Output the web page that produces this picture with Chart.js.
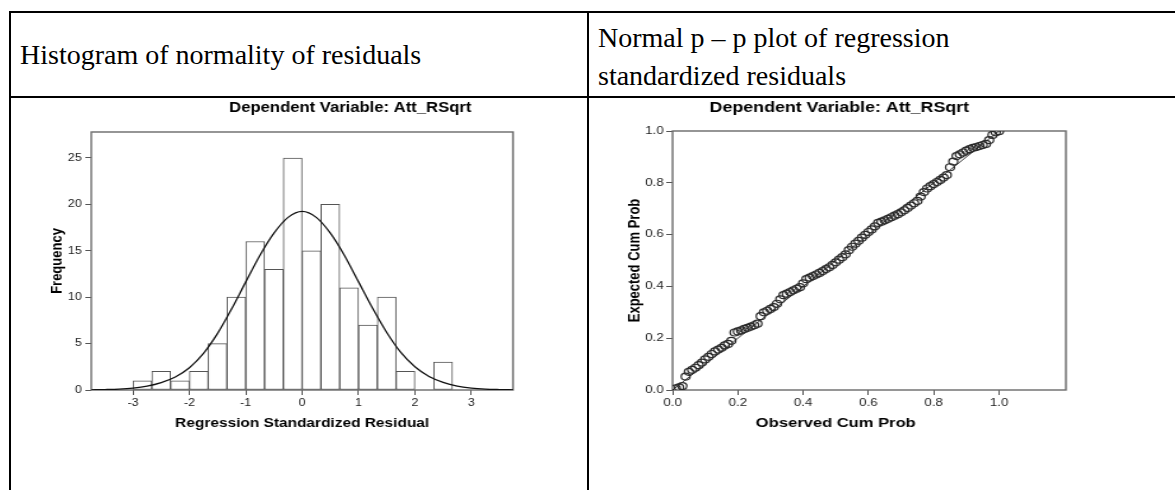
<!DOCTYPE html>
<html>
<head>
<meta charset="utf-8">
<script src="https://cdn.jsdelivr.net/npm/chart.js@4.4.0/dist/chart.umd.min.js"></script>
<style>
html,body{margin:0;padding:0;background:#fff;}
body{width:1175px;height:490px;position:relative;overflow:hidden;font-family:"Liberation Serif","Times New Roman",serif;}
.rule{position:absolute;background:#000;}
.head{position:absolute;font-size:28px;line-height:38px;color:#000;white-space:nowrap;}
.plot{position:absolute;top:100px;transform-origin:0 0;}
</style>
</head>
<body>

<div class="rule" style="left:9px;top:11px;width:1166px;height:2px"></div>
<div class="rule" style="left:9px;top:11px;width:2px;height:479px"></div>
<div class="rule" style="left:9px;top:96px;width:1166px;height:2px"></div>
<div class="rule" style="left:587px;top:11px;width:2px;height:479px"></div>

<div class="head" style="left:20px;top:36px">Histogram of normality of residuals</div>
<div class="head" style="left:598px;top:19px">Normal p – p plot of regression<br>standardized residuals</div>

<div class="plot" style="left:20px;transform:scaleX(1.188)"><canvas id="hist" width="460" height="360"></canvas></div>
<div class="plot" style="left:600px;transform:scaleX(1.273)"><canvas id="pp" width="400" height="360"></canvas></div>

<script>
// histogram: bins of width 1/3, centres and counts
const binCenters = [-2.833,-2.5,-2.167,-1.833,-1.5,-1.167,-0.833,-0.5,-0.167,0.167,0.5,0.833,1.167,1.5,1.833,2.167,2.5];
const frequencies = [1,2,1,2,5,10,16,13,25,15,20,11,7,10,2,0,3];

// normal curve
const curveX = [-3.75,-3.5,-3.25,-3,-2.75,-2.5,-2.25,-2,-1.75,-1.5,-1.25,-1,-0.75,-0.5,-0.25,0,0.25,0.5,0.75,1,1.25,1.5,1.75,2,2.25,2.5,2.75,3,3.25,3.5,3.75];
const curveY = [0.02,0.05,0.10,0.21,0.42,0.80,1.40,2.40,3.95,6.10,8.75,11.65,14.5,16.9,18.6,19.25,18.6,16.9,14.5,11.65,8.8,6.2,4.05,2.5,1.45,0.82,0.42,0.21,0.10,0.05,0.02];

const histXTicks = [-3,-2,-1,0,1,2,3];
const histYTicks = [0,5,10,15,20,25];

// p-p plot
const observedCum = [0.01,0.02,0.03,0.04,0.05,0.06,0.07,0.08,0.09,0.10,
0.11,0.12,0.13,0.14,0.15,0.16,0.17,0.18,0.19,0.20,
0.21,0.22,0.23,0.24,0.25,0.26,0.27,0.28,0.29,0.30,
0.31,0.32,0.33,0.34,0.35,0.36,0.37,0.38,0.39,0.40,
0.41,0.42,0.43,0.44,0.45,0.46,0.47,0.48,0.49,0.50,
0.51,0.52,0.53,0.54,0.55,0.56,0.57,0.58,0.59,0.60,
0.61,0.62,0.63,0.64,0.65,0.66,0.67,0.68,0.69,0.70,
0.71,0.72,0.73,0.74,0.75,0.76,0.77,0.78,0.79,0.80,
0.81,0.82,0.83,0.84,0.85,0.86,0.87,0.88,0.89,0.90,
0.91,0.92,0.93,0.94,0.95,0.96,0.97,0.98,0.99,1.00];
const expectedCum = [0.006,0.010,0.015,0.052,0.070,0.078,0.086,0.096,0.106,0.118,
0.128,0.139,0.149,0.156,0.163,0.172,0.178,0.190,0.222,0.226,
0.230,0.236,0.240,0.245,0.250,0.256,0.285,0.300,0.306,0.313,
0.320,0.333,0.350,0.366,0.372,0.378,0.385,0.391,0.397,0.412,
0.428,0.434,0.440,0.446,0.452,0.459,0.467,0.474,0.483,0.493,
0.503,0.513,0.524,0.540,0.553,0.565,0.576,0.588,0.599,0.610,
0.620,0.632,0.645,0.650,0.655,0.661,0.667,0.673,0.679,0.686,
0.694,0.703,0.712,0.721,0.730,0.747,0.764,0.778,0.787,0.795,
0.803,0.811,0.820,0.830,0.860,0.882,0.903,0.910,0.917,0.924,
0.930,0.935,0.938,0.942,0.946,0.950,0.965,0.985,0.995,0.999];
const refLineX = [0,1];
const refLineY = [0,1];
const ppTicks = [0,0.2,0.4,0.6,0.8,1.0];

Chart.defaults.font.family = '"Liberation Sans", Arial, sans-serif';
Chart.defaults.color = '#222';

const tickFont = {size:10.5};
const titleFont = {size:13, weight:'bold'};

// frame round the plot, chart title and x axis title like SPSS draws them
const spssPlugin = {
  id:'spss',
  beforeDatasetsDraw(chart, args, o){
    const {ctx, chartArea:a} = chart;
    ctx.save();
    ctx.strokeStyle = '#6a6a6a';
    ctx.lineWidth = 1.4;
    ctx.strokeRect(a.left, a.top, a.right-a.left, a.bottom-a.top);
    ctx.restore();
  },
  afterDraw(chart, args, o){
    const ctx = chart.ctx;
    ctx.save();
    ctx.fillStyle = '#000';
    ctx.textAlign = 'center';
    ctx.textBaseline = 'middle';
    ctx.font = 'bold 14px "Liberation Sans", Arial, sans-serif';
    ctx.fillText(o.title, o.titleX, 8);
    ctx.font = 'bold 13px "Liberation Sans", Arial, sans-serif';
    ctx.fillText(o.xTitle, chart.scales.x.getPixelForValue(o.xTitleAt), 323);
    ctx.restore();
  }
};

function axisTicks(values){
  return s => { s.ticks = values.map(v=>({value:v})); };
}

new Chart(document.getElementById('hist'), {
  type:'bar',
  data:{
    datasets:[{
      type:'line',
      data:curveX.map((x,i)=>({x:x, y:curveY[i]})),
      borderColor:'#111',
      borderWidth:1.3,
      pointRadius:0,
      cubicInterpolationMode:'monotone',
      order:0
    },{
      type:'bar',
      data:binCenters.map((x,i)=>({x:x, y:frequencies[i]})),
      backgroundColor:'#fff',
      borderColor:'#555',
      borderWidth:1,
      borderSkipped:false,
      barPercentage:1,
      categoryPercentage:1,
      order:1
    }]
  },
  options:{
    responsive:false,
    animation:false,
    layout:{padding:{top:32, right:45, left:0, bottom:0}},
    plugins:{
      legend:{display:false},
      tooltip:{enabled:false},
      spss:{title:'Dependent Variable: Att_RSqrt', titleX:278, xTitle:'Regression Standardized Residual', xTitleAt:0}
    },
    scales:{
      x:{
        type:'linear', min:-3.74, max:3.74, offset:false,
        afterBuildTicks:axisTicks(histXTicks),
        afterFit:s=>{ s.height = 70; },
        ticks:{font:tickFont, padding:2, maxRotation:0, autoSkip:false, callback:v=>String(v)},
        grid:{offset:false, drawOnChartArea:false, drawTicks:true, tickLength:5, color:'#555'},
        border:{display:false}
      },
      y:{
        type:'linear', min:0, max:27.8,
        afterBuildTicks:axisTicks(histYTicks),
        afterFit:s=>{ s.width = 60; },
        ticks:{font:tickFont, padding:3, autoSkip:false, callback:v=>String(v)},
        grid:{drawOnChartArea:false, drawTicks:true, tickLength:5, color:'#555'},
        border:{display:false},
        title:{display:true, text:'Frequency', font:titleFont, color:'#000', padding:{top:24, bottom:0}}
      }
    }
  },
  plugins:[spssPlugin]
});

new Chart(document.getElementById('pp'), {
  type:'scatter',
  data:{
    datasets:[{
      data:observedCum.map((x,i)=>({x:x, y:expectedCum[i]})),
      pointRadius:3.5,
      pointBorderWidth:1.2,
      pointBorderColor:'#2a2a2a',
      pointBackgroundColor:'rgba(255,255,255,0)',
      order:0
    },{
      type:'line',
      data:refLineX.map((x,i)=>({x:x, y:refLineY[i]})),
      borderColor:'#000',
      borderWidth:0.8,
      pointRadius:0,
      order:1
    }]
  },
  options:{
    responsive:false,
    animation:false,
    layout:{padding:{top:31, right:34, left:0, bottom:0}},
    plugins:{
      legend:{display:false},
      tooltip:{enabled:false},
      spss:{title:'Dependent Variable: Att_RSqrt', titleX:188, xTitle:'Observed Cum Prob', xTitleAt:0.5}
    },
    scales:{
      x:{
        type:'linear', min:0, max:1.205,
        afterBuildTicks:axisTicks(ppTicks),
        afterFit:s=>{ s.height = 70; },
        ticks:{font:tickFont, padding:2, maxRotation:0, autoSkip:false, callback:v=>v.toFixed(1)},
        grid:{drawOnChartArea:false, drawTicks:true, tickLength:5, color:'#555'},
        border:{display:false}
      },
      y:{
        type:'linear', min:0, max:1,
        afterBuildTicks:axisTicks(ppTicks),
        afterFit:s=>{ s.width = 57; },
        ticks:{font:tickFont, padding:2, autoSkip:false, callback:v=>v.toFixed(1)},
        grid:{drawOnChartArea:false, drawTicks:true, tickLength:5, color:'#555'},
        border:{display:false},
        title:{display:true, text:'Expected Cum Prob', font:titleFont, color:'#000', padding:{top:20, bottom:0}}
      }
    }
  },
  plugins:[spssPlugin]
});
</script>
</body>
</html>
